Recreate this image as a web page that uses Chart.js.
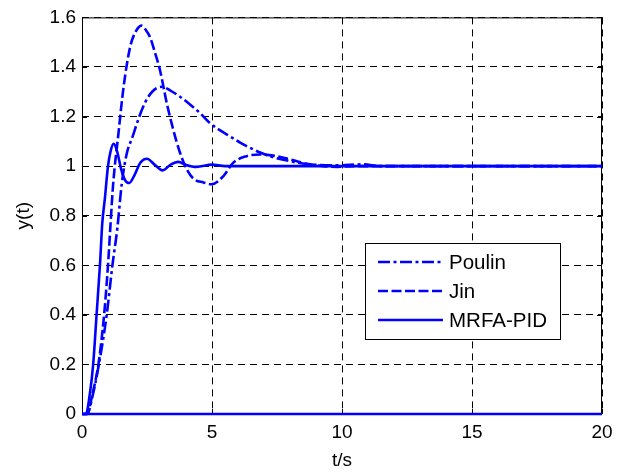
<!DOCTYPE html>
<html>
<head>
<meta charset="utf-8">
<title>y(t)</title>
<script src="https://cdn.jsdelivr.net/npm/chart.js@4.4.0/dist/chart.umd.min.js"></script>
<style>
  html, body { margin: 0; padding: 0; background: #fff; }
  #grafico { display: block; }
</style>
</head>
<body>
<canvas id="grafico" width="622" height="472"></canvas>
<script>
// step responses, t in seconds
const tPoulin = [0, 0.2, 0.4, 0.65, 0.95, 1.17, 1.36, 1.53, 1.72, 1.95, 2.17, 2.42, 2.7, 3.06, 3.4, 3.77, 4.2, 4.54, 4.92, 5.3, 5.69, 6.08, 6.46, 6.85, 7.23, 8.0, 8.77, 9.8, 10.8, 11.5, 20];
const yPoulin = [0, 0, 0.07, 0.2, 0.4, 0.6, 0.75, 0.93, 1.05, 1.12, 1.19, 1.255, 1.3, 1.32, 1.305, 1.28, 1.245, 1.214, 1.174, 1.145, 1.12, 1.095, 1.074, 1.055, 1.04, 1.02, 1.007, 1.003, 1.007, 1.0, 1.0];

const tJin = [0, 0.2, 0.4, 0.63, 0.85, 1.0, 1.1, 1.2, 1.4, 1.6, 1.85, 2.05, 2.29, 2.45, 2.62, 2.8, 3.0, 3.26, 3.51, 3.77, 4.03, 4.28, 4.67, 4.99, 5.44, 5.82, 6.33, 6.85, 7.49, 8.0, 8.77, 9.28, 9.8, 10.5, 20];
const yJin = [0, 0, 0.08, 0.2, 0.4, 0.6, 0.77, 0.93, 1.13, 1.32, 1.48, 1.54, 1.567, 1.55, 1.52, 1.46, 1.387, 1.254, 1.147, 1.054, 0.987, 0.95, 0.934, 0.927, 0.96, 1.014, 1.04, 1.047, 1.04, 1.027, 1.007, 1.0, 0.997, 1.0, 1.0];

const tMrfa = [0, 0.15, 0.3, 0.43, 0.56, 0.69, 0.78, 0.88, 1.0, 1.1, 1.22, 1.35, 1.5, 1.65, 1.82, 2.0, 2.25, 2.5, 2.8, 3.1, 3.4, 3.7, 4.0, 4.4, 5.0, 5.5, 20];
const yMrfa = [0, 0, 0.08, 0.2, 0.4, 0.6, 0.77, 0.87, 1.0, 1.06, 1.09, 1.06, 0.99, 0.945, 0.932, 0.96, 1.015, 1.03, 1.005, 0.983, 1.005, 1.017, 1.005, 0.997, 1.006, 1.0, 1.0];

// zero line along the bottom
const tZero = [0, 20];
const yZero = [0, 0];

const xTicks = [0, 5, 10, 15, 20];
const yTicks = [0, 0.2, 0.4, 0.6, 0.8, 1, 1.2, 1.4, 1.6];

const fonte = { family: "'Liberation Sans', Arial, sans-serif", size: 19 };
const azul = '#0000ff';

function pontos(ts, ys) {
    return ts.map((t, i) => ({ x: t, y: ys[i] }));
}

// box and inward tick marks, under the curves
const eixos = {
    id: 'eixos',
    beforeDatasetsDraw(chart) {
        const { ctx, chartArea: a, scales: { x, y } } = chart;
        const len = 5;
        ctx.save();
        ctx.strokeStyle = '#000';
        ctx.lineWidth = 1;
        ctx.setLineDash([]);
        ctx.beginPath();
        xTicks.forEach(v => {
            const px = Math.round(x.getPixelForValue(v)) + 0.5;
            ctx.moveTo(px, a.bottom); ctx.lineTo(px, a.bottom - len);
            ctx.moveTo(px, a.top); ctx.lineTo(px, a.top + len);
        });
        yTicks.forEach(v => {
            const py = Math.round(y.getPixelForValue(v)) + 0.5;
            ctx.moveTo(a.left, py); ctx.lineTo(a.left + len, py);
            ctx.moveTo(a.right, py); ctx.lineTo(a.right - len, py);
        });
        ctx.stroke();
        ctx.strokeRect(a.left + 0.5, a.top + 0.5, a.width - 1, a.height);
        ctx.restore();
    }
};

// legend box inside the plot
const legenda = {
    id: 'legenda',
    afterDraw(chart) {
        const { ctx } = chart;
        const caixa = { x: 365.5, y: 243.5, w: 195, h: 96 };
        const linhas = [262, 291, 320];
        ctx.save();
        ctx.fillStyle = '#fff';
        ctx.fillRect(caixa.x, caixa.y, caixa.w, caixa.h);
        ctx.strokeStyle = '#000';
        ctx.lineWidth = 1;
        ctx.strokeRect(caixa.x, caixa.y, caixa.w, caixa.h);
        const sets = chart.data.datasets.filter(d => d.label);
        sets.forEach((d, i) => {
            const yy = linhas[i];
            ctx.strokeStyle = d.borderColor;
            ctx.lineWidth = d.borderWidth;
            ctx.setLineDash(d.borderDash || []);
            ctx.beginPath();
            ctx.moveTo(378, yy);
            ctx.lineTo(443, yy);
            ctx.stroke();
            ctx.setLineDash([]);
            ctx.fillStyle = '#000';
            ctx.font = '20.5px ' + fonte.family;
            ctx.textBaseline = 'middle';
            ctx.textAlign = 'left';
            ctx.fillText(d.label, 449, yy + 1);
        });
        ctx.restore();
    }
};

const canvas = document.getElementById('grafico');
const ctx = canvas.getContext('2d');

const serie = (label, ts, ys, dash) => ({
    label: label,
    data: pontos(ts, ys),
    borderColor: azul,
    borderWidth: 2.6,
    borderDash: dash,
    pointRadius: 0,
    fill: false,
    cubicInterpolationMode: 'monotone',
    clip: 4
});

new Chart(ctx, {
    type: 'line',
    data: {
        datasets: [
            serie('Poulin', tPoulin, yPoulin, [12, 3.5, 3, 3.5]),
            serie('Jin', tJin, yJin, [10, 3.5]),
            serie('MRFA-PID', tMrfa, yMrfa, []),
            serie('', tZero, yZero, [])
        ]
    },
    options: {
        responsive: false,
        animation: false,
        devicePixelRatio: 1,
        layout: { padding: { top: 13, right: 20, left: 0, bottom: 0 } },
        plugins: {
            legend: { display: false },
            tooltip: { enabled: false }
        },
        scales: {
            x: {
                type: 'linear',
                min: 0,
                max: 20,
                afterBuildTicks: s => { s.ticks = xTicks.map(v => ({ value: v })); },
                afterFit: s => { s.height = 58; },
                ticks: { color: '#000', font: fonte, padding: 7, maxRotation: 0 },
                grid: { color: '#000', lineWidth: 1, drawTicks: false },
                border: { display: false, dash: [7, 5] },
                title: { display: true, text: 't/s', color: '#000', font: fonte, padding: { top: 0, bottom: 0 } }
            },
            y: {
                type: 'linear',
                min: 0,
                max: 1.6,
                afterBuildTicks: s => { s.ticks = yTicks.map(v => ({ value: v })); },
                afterFit: s => { s.width = 82; },
                ticks: {
                    color: '#000',
                    font: fonte,
                    padding: 6,
                    callback: v => String(Math.round(v * 10) / 10)
                },
                grid: { color: '#000', lineWidth: 1, drawTicks: false },
                border: { display: false, dash: [7, 5] },
                title: { display: true, text: 'y(t)', color: '#000', font: fonte, padding: { top: 12, bottom: 0 } }
            }
        }
    },
    plugins: [eixos, legenda]
});
</script>
</body>
</html>
